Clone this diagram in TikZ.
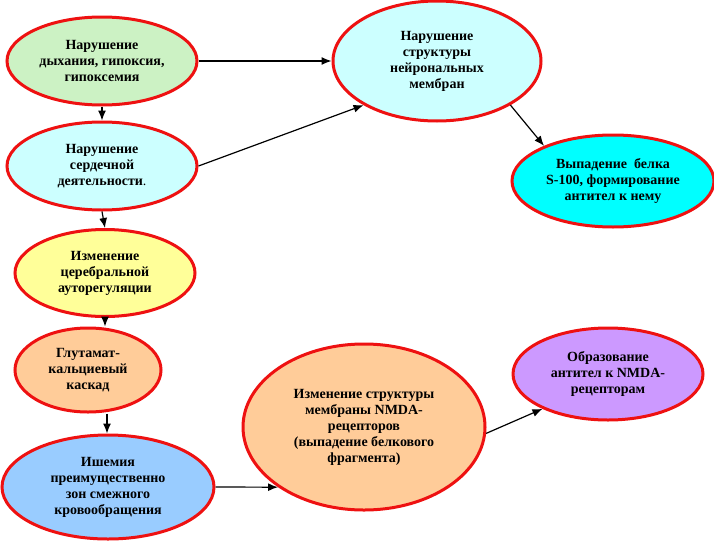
\documentclass[tikz,border=0pt]{standalone}
\usepackage{fontspec}
\setmainfont{Liberation Serif}
\usetikzlibrary{shapes.geometric,arrows.meta}
\definecolor{cGreen}{HTML}{CCF2C4}
\definecolor{cLCyan}{HTML}{CCFFFF}
\definecolor{cYellow}{HTML}{FFFF99}
\definecolor{cPeach}{HTML}{FFCC99}
\definecolor{cBlue}{HTML}{99CCFF}
\definecolor{cPurple}{HTML}{CC99FF}
\definecolor{cCyan}{HTML}{00FFFF}
\definecolor{cRed}{HTML}{EE1111}
\begin{document}
\begin{tikzpicture}[x=1pt,y=-1pt,
  ell/.style={ellipse, draw=cRed, line width=3pt, inner sep=0pt, align=center,
    font=\fontsize{14}{16}\selectfont\bfseries},
  arr/.style={-{Latex[length=10pt,width=8pt]}, line width=1.2pt, black}]
\useasboundingbox (0,0) rectangle (714,541);
\node[ell, fill=cGreen, minimum width=190pt, minimum height=88pt] (e1) at (102,61) {Нарушение\\дыхания, гипоксия,\\гипоксемия};
\node[ell, fill=cLCyan, minimum width=190pt, minimum height=88pt] (e2) at (102,166) {Нарушение\\сердечной\\деятельности{\mdseries.}};
\node[ell, fill=cYellow, minimum width=180pt, minimum height=87pt] (e3) at (105,273) {Изменение\\церебральной\\ауторегуляции};
\node[ell, fill=cPeach, minimum width=146pt, minimum height=84pt] (e4) at (88,370) {Глутамат-\\кальциевый\\каскад};
\node[ell, fill=cBlue, minimum width=212pt, minimum height=104pt] (e5) at (108,487) {Ишемия\\преимущественно\\зон смежного\\кровообращения};
\node[ell, fill=cPeach, minimum width=242pt, minimum height=166pt] (e6) at (364,427) {Изменение структуры\\мембраны NMDA-\\рецепторов\\(выпадение белкового\\фрагмента)};
\node[ell, fill=cPurple, minimum width=190pt, minimum height=92pt] (e7) at (608,374) {Образование\\антител к NMDA-\\рецепторам};
\node[ell, fill=cLCyan, minimum width=208pt, minimum height=120pt] (e8) at (437,61) {\raisebox{4pt}{\begin{tabular}{@{}c@{}}Нарушение\\структуры\\нейрональных\\мембран\end{tabular}}};
\node[ell, fill=cCyan, minimum width=202pt, minimum height=92pt] (e9) at (613,181) {Выпадение~ белка\\S-100, формирование\\антител к нему};
\draw[arr] (e1.east) -- (e8.west);
\draw[arr] (e1.south) -- (e2.north);
\draw[arr] (e2.east) -- (e8.211);
\draw[arr] (e2.south) -- (e3.north);
\draw[arr] (e3.south) -- (e4.north -| e3.south);
\draw[arr] (e4.south -| 107,0) -- (e5.north -| 107,0);
\draw[arr] (e5.east) -- (e6.215);
\draw[arr] (e6.-3) -- (e7.208);
\draw[arr] (e8.-31) -- (e9.153);
\end{tikzpicture}
\end{document}
